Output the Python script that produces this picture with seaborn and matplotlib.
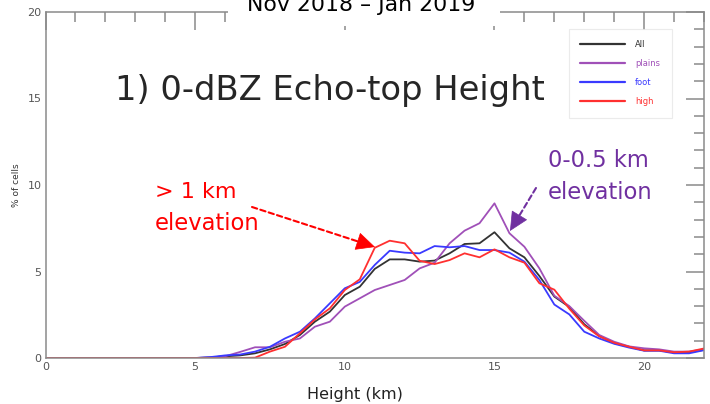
import numpy as np
import pandas as pd
import matplotlib
matplotlib.use("Agg")
import matplotlib.pyplot as plt
import seaborn as sns
from matplotlib.ticker import MultipleLocator

# ---- data (0.5 km bins, 0..22 km) ----
height_km = [i * 0.5 for i in range(45)]
zeros_0_5 = [0.0] * 11
all_cells = zeros_0_5 + [0.03, 0.10, 0.15, 0.27, 0.50, 0.81, 1.33, 2.10, 2.68, 3.64,
                         4.12, 5.15, 5.70, 5.70, 5.57, 5.63, 6.05, 6.59, 6.63, 7.27,
                         6.34, 5.82, 4.74, 3.55, 2.95, 1.95, 1.28, 0.86, 0.65, 0.44,
                         0.44, 0.33, 0.33, 0.47]
plains = zeros_0_5 + [0.03, 0.10, 0.35, 0.62, 0.62, 0.94, 1.13, 1.81, 2.10, 2.97,
                      3.45, 3.93, 4.22, 4.51, 5.18, 5.51, 6.63, 7.36, 7.79, 8.94,
                      7.21, 6.43, 5.18, 3.60, 3.00, 2.15, 1.33, 0.94, 0.67, 0.56,
                      0.50, 0.37, 0.37, 0.50]
foot = zeros_0_5 + [0.05, 0.15, 0.20, 0.37, 0.65, 1.13, 1.52, 2.29, 3.16, 4.03,
                    4.40, 5.38, 6.20, 6.09, 6.05, 6.47, 6.40, 6.47, 6.24, 6.24,
                    6.09, 5.57, 4.51, 3.09, 2.52, 1.52, 1.13, 0.82, 0.60, 0.42,
                    0.42, 0.27, 0.27, 0.45]
high = zeros_0_5 + [0.00, 0.00, 0.00, 0.02, 0.37, 0.65, 1.43, 2.23, 2.87, 3.93,
                    4.55, 6.37, 6.78, 6.63, 5.62, 5.43, 5.66, 6.05, 5.82, 6.28,
                    5.82, 5.51, 4.32, 3.95, 2.85, 1.88, 1.25, 0.88, 0.65, 0.44,
                    0.44, 0.33, 0.37, 0.55]
series_names = ["All", "plains", "foot", "high"]
series_colors = ["#333333", "#a050b8", "#3a3aff", "#ff3030"]

df = pd.concat([
    pd.DataFrame({"Height": height_km, "pct": vals, "region": name})
    for name, vals in zip(series_names, [all_cells, plains, foot, high])
])

sns.set_style("white")
plt.rcParams["font.family"] = ["DejaVu Sans"]

W, H = 710, 404
fig = plt.figure(figsize=(W / 100, H / 100), dpi=100)
ax = fig.add_axes([45.5 / W, 1 - 358 / H, (704 - 45.5) / W, (358 - 12) / H])

sns.lineplot(data=df, x="Height", y="pct", hue="region",
             palette=dict(zip(series_names, series_colors)),
             hue_order=series_names, linewidth=1.3, ax=ax, legend=False)

ax.set_xlim(0, 22)
ax.set_ylim(0, 20)
ax.xaxis.set_major_locator(MultipleLocator(5))
ax.xaxis.set_minor_locator(MultipleLocator(1))
ax.yaxis.set_major_locator(MultipleLocator(5))
ax.yaxis.set_minor_locator(MultipleLocator(1))
ax.tick_params(which="both", direction="in", top=True, right=True, color="#8a8a8a", width=1.1,
               labelsize=8, labelcolor="#555555")
ax.tick_params(which="major", length=13, pad=3)
ax.tick_params(which="minor", length=7)
for s in ax.spines.values():
    s.set_color("#8a8a8a")
    s.set_linewidth(1.1)

ax.set_xlabel("Height (km)", fontsize=11.5, color="#222222")
ax.xaxis.set_label_coords((355 - 45.5) / 658.5, -0.085)
ax.set_ylabel("% of cells", fontsize=6.5, color="#333333")
ax.yaxis.set_label_coords((21 - 45.5) / 658.5, 0.5)

# legend
handles = [plt.Line2D([], [], color=c, lw=1.6) for c in series_colors]
leg = ax.legend(handles, series_names, loc="upper left", fontsize=6, handlelength=5.4,
                handletextpad=1.2, labelspacing=1.2, borderpad=1.35, borderaxespad=0,
                frameon=True, fancybox=False, labelcolor="linecolor")
leg.set_bbox_to_anchor((569 / W, 1 - 29 / H), transform=fig.transFigure)
leg.get_frame().set_edgecolor("#e6e6e6")
leg.get_frame().set_linewidth(0.8)

# white box interrupting top spine, with period title
fig.patches.append(plt.Rectangle((228 / W, 1 - 26 / H), (500 - 228) / W, 26 / H,
                                 transform=fig.transFigure, facecolor="white", edgecolor="none", zorder=5))
fig.text(361.5 / W, 1 - 11 / H, "Nov 2018 \u2013 Jan 2019", fontsize=15.8, ha="center", va="baseline",
         color="black", zorder=6)

fig.text(115 / W, 1 - 100 / H, "1) 0-dBZ Echo-top Height", fontsize=24.3, ha="left", va="baseline")
fig.text(155 / W, 1 - 198 / H, "> 1 km", fontsize=16, color="#ff0000", ha="left", va="baseline")
fig.text(155 / W, 1 - 230 / H, "elevation", fontsize=16.3, color="#ff0000", ha="left", va="baseline")
fig.text(548 / W, 1 - 167 / H, "0-0.5 km", fontsize=16.3, color="#7030a0", ha="left", va="baseline")
fig.text(548 / W, 1 - 199 / H, "elevation", fontsize=16.3, color="#7030a0", ha="left", va="baseline")


# dashed arrows: dashed shaft + solid head
def dashed_arrow(start, tip, color, head_px=17):
    sx, sy = start[0], H - start[1]
    tx, ty = tip[0], H - tip[1]
    d = np.hypot(tx - sx, ty - sy)
    ux, uy = (tx - sx) / d, (ty - sy) / d
    bx, by = tx - ux * (head_px - 1), ty - uy * (head_px - 1)
    ax.annotate("", xy=(bx, by), xytext=(sx, sy), xycoords="figure pixels", textcoords="figure pixels",
                arrowprops=dict(arrowstyle="-", linestyle=(0, (2.6, 1.6)), color=color, lw=1.5,
                                shrinkA=0, shrinkB=0))
    hx, hy = tx - ux * (head_px + 2), ty - uy * (head_px + 2)
    ax.annotate("", xy=(tx, ty), xytext=(hx, hy), xycoords="figure pixels", textcoords="figure pixels",
                arrowprops=dict(arrowstyle="-|>,head_length=1.25,head_width=0.6", color=color, lw=0.5,
                                shrinkA=0, shrinkB=0))


dashed_arrow((252, 207), (375, 247), "#ff0000")
dashed_arrow((536, 188), (510, 231), "#7030a0", head_px=16)

fig.savefig("out.png", dpi=100)
